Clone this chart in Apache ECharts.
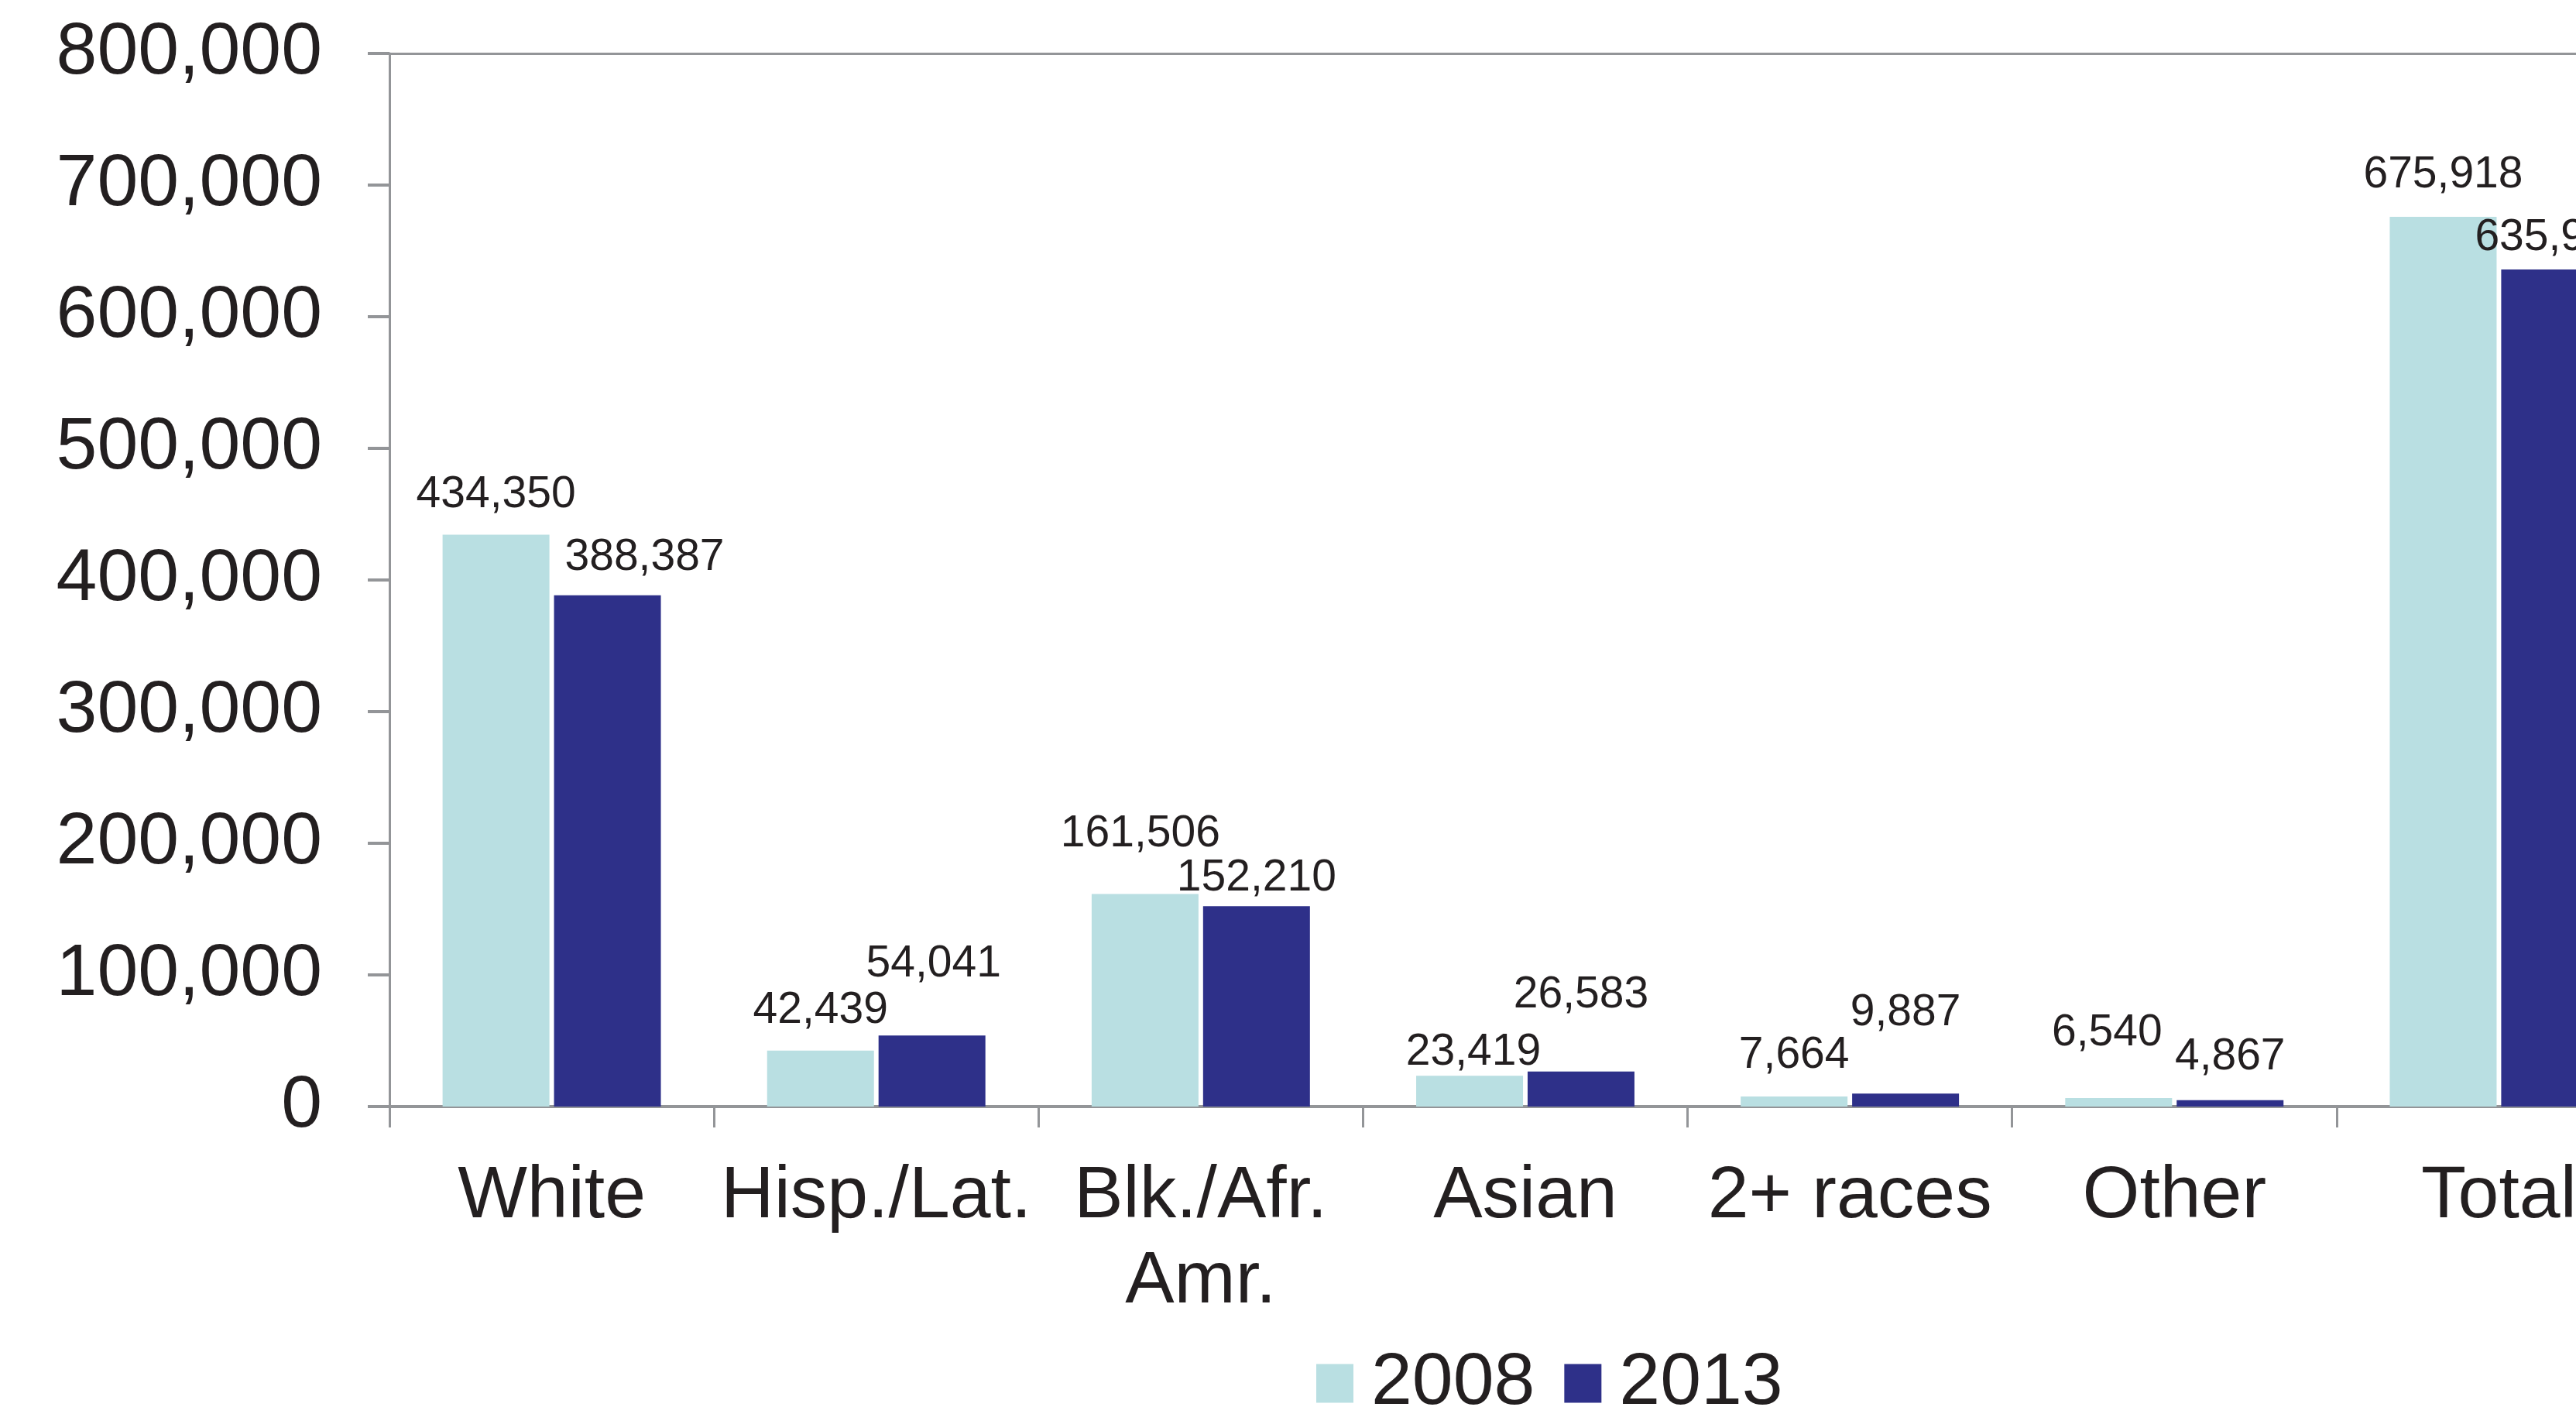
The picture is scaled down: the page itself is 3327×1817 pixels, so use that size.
<!DOCTYPE html>
<html>
<head>
<meta charset="utf-8">
<script src="https://cdn.jsdelivr.net/npm/echarts@6/dist/echarts.min.js"></script>
<style>
html,body{margin:0;padding:0;background:#fff;overflow:hidden;width:3327px;height:1817px;}
#chart{width:3500px;height:1817px;}
</style>
</head>
<body>
<div id="chart"></div>
<script>
// ---- data ----
const categories = ['White', 'Hisp./Lat.', 'Blk./Afr.\nAmr.', 'Asian', '2+ races', 'Other', 'Total'];
const seriesNames = ['2008', '2013'];
const values2008 = [434350, 42439, 161506, 23419, 7664, 6540, 675918];
const values2013 = [388387, 54041, 152210, 26583, 9887, 4867, 635935];
const yTicks = [0, 100000, 200000, 300000, 400000, 500000, 600000, 700000, 800000];

// ---- label placement (style only) ----
const labelRise2008 = [51, 52, 77, 30, 53, 84, 54];
const labelShift2008 = [0, 0, -6, 5, 0, -15, 0];
const labelRise2013 = [48, 92, 36, 99, 104, 55, 41];
const labelShift2013 = [48, 2, 0, 0, 0, 0, 0];

const FONT = "'Liberation Sans', Arial, Helvetica, sans-serif";
const TXT = '#231f20';
const AX = '#939598';
const LABEL_FS = 57;

function fmt(v) { return v.toLocaleString('en-US'); }

function buildData(vals, rise, shift) {
  return vals.map((v, i) => ({
    value: v,
    label: { offset: [shift[i], -(rise[i] - LABEL_FS / 2)] }
  }));
}

const chart = echarts.init(document.getElementById('chart'), null, { renderer: 'canvas' });
chart.setOption({
  animation: false,
  backgroundColor: '#ffffff',
  grid: { left: 503, top: 69, width: 2934, height: 1360, containLabel: false },
  legend: {
    data: seriesNames,
    left: 1695,
    top: 1734,
    icon: 'rect',
    itemWidth: 48,
    itemHeight: 50,
    itemGap: 38,
    textStyle: { fontFamily: FONT, fontSize: 95, color: TXT, lineHeight: 94, padding: [0, 0, 0, 18] }
  },
  xAxis: [{
    type: 'category',
    data: categories,
    boundaryGap: true,
    axisLine: { show: true, lineStyle: { color: AX, width: 4 } },
    axisTick: { show: true, length: 27, lineStyle: { color: AX, width: 3 } },
    axisLabel: { fontFamily: FONT, fontSize: 95, color: TXT, lineHeight: 110, margin: 62, interval: 0 },
    splitLine: { show: false }
  }, {
    type: 'category',
    data: categories,
    position: 'top',
    axisLine: { show: true, lineStyle: { color: AX, width: 3 } },
    axisTick: { show: false },
    axisLabel: { show: false },
    splitLine: { show: false }
  }],
  yAxis: {
    type: 'value',
    min: 0,
    max: 800000,
    interval: 100000,
    axisLine: { show: true, lineStyle: { color: AX, width: 3 } },
    axisTick: { show: true, length: 28, lineStyle: { color: AX, width: 4 } },
    axisLabel: { fontFamily: FONT, fontSize: 95, color: TXT, margin: 87, padding: [8, 0, 0, 0], formatter: v => fmt(v) },
    splitLine: { show: false }
  },
  series: [{
    name: seriesNames[0],
    type: 'bar',
    xAxisIndex: 0,
    barWidth: 138,
    barGap: '4.3%',
    itemStyle: { color: '#b9dfe2' },
    label: { show: true, position: 'top', distance: 0, fontFamily: FONT, fontSize: LABEL_FS, lineHeight: LABEL_FS, color: TXT, formatter: p => fmt(p.value) },
    data: buildData(values2008, labelRise2008, labelShift2008)
  }, {
    name: seriesNames[1],
    type: 'bar',
    xAxisIndex: 0,
    barWidth: 138,
    barGap: '4.3%',
    itemStyle: { color: '#2e3089' },
    label: { show: true, position: 'top', distance: 0, fontFamily: FONT, fontSize: LABEL_FS, lineHeight: LABEL_FS, color: TXT, formatter: p => fmt(p.value) },
    data: buildData(values2013, labelRise2013, labelShift2013)
  }]
});
</script>
</body>
</html>
